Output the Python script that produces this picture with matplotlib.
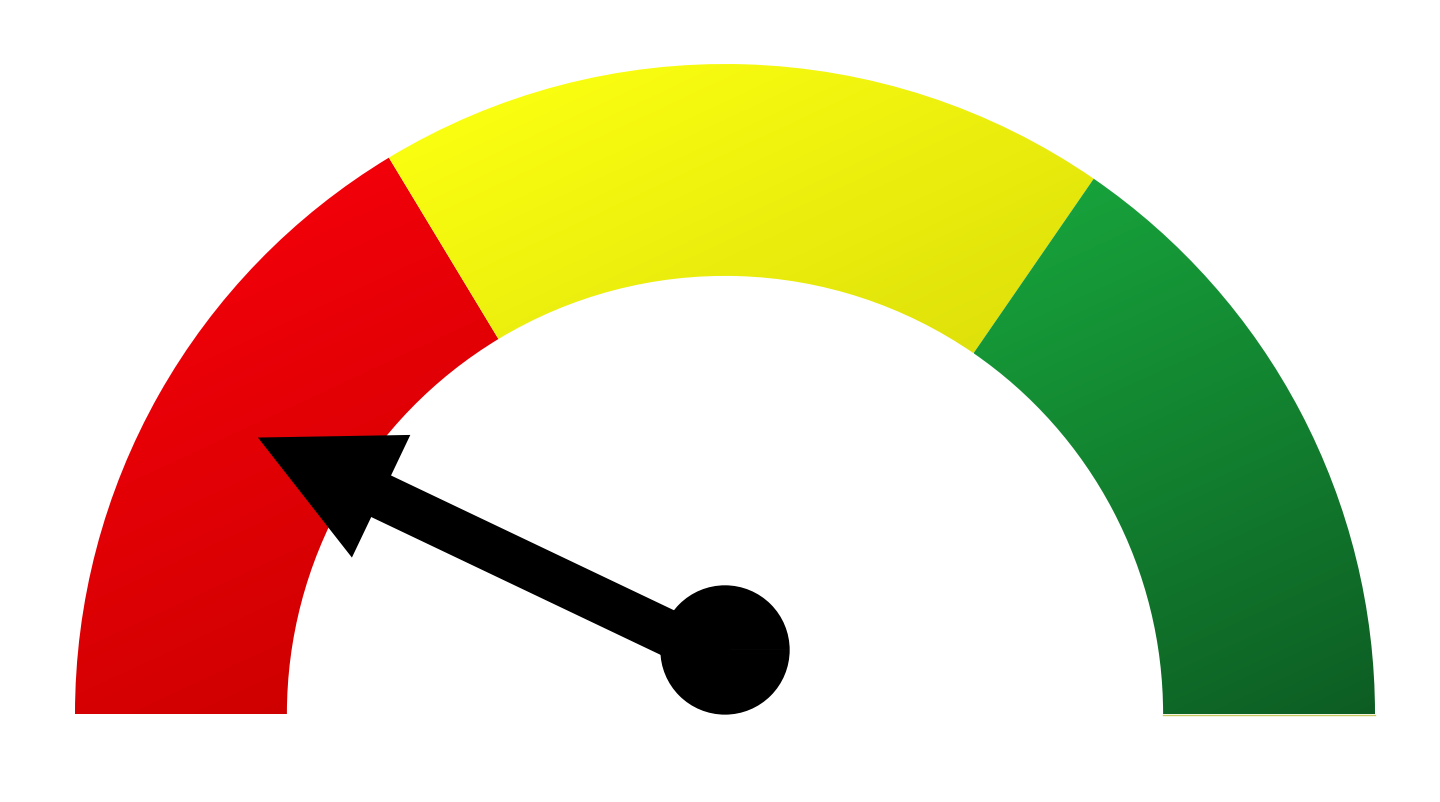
import numpy as np
import matplotlib
matplotlib.use("Agg")
import matplotlib.pyplot as plt
from matplotlib.patches import Wedge, FancyArrow
from matplotlib.colors import LinearSegmentedColormap

# ---- data ----
scale_min = 0
scale_max = 100
segment_bounds = [0, 32.7, 69.2, 100]      # red | yellow | green
segment_names = ["red", "yellow", "green"]
needle_value = 14.15

# ---- styles ----
segment_colors = [("#F2000A", "#CF0000"),
                  ("#FAFE10", "#DFE10A"),
                  ("#17A23B", "#0D5D23")]
R_OUT = 1.0
R_IN = 0.674
HUB_Y = 0.0985
HUB_R = 0.0995
NEEDLE_Y = 0.083
GRAD_ANGLE = np.radians(65)   # gradient direction, down-right


def val2ang(v):
    return 180.0 - 180.0 * (v - scale_min) / (scale_max - scale_min)


fig = plt.figure(figsize=(14.4, 8.02), dpi=100)
ax = fig.add_axes([0, 0, 1, 1])
ax.set_xlim(-725 / 650, (1440 - 725) / 650)
ax.set_ylim(-(802 - 714) / 650, 714 / 650)
ax.set_aspect("equal")
ax.axis("off")

dvec = np.array([np.cos(GRAD_ANGLE), -np.sin(GRAD_ANGLE)])

for i, name in enumerate(segment_names):
    a1 = val2ang(segment_bounds[i + 1])
    a0 = val2ang(segment_bounds[i])
    w = Wedge((0, 0), R_OUT, a1, a0, width=R_OUT - R_IN,
              facecolor="none", edgecolor="none")
    ax.add_patch(w)
    angs = np.linspace(np.radians(a1), np.radians(a0), 400)
    xs = np.concatenate([R_OUT * np.cos(angs), R_IN * np.cos(angs)])
    ys = np.concatenate([R_OUT * np.sin(angs), R_IN * np.sin(angs)])
    x0, x1 = xs.min(), xs.max()
    y0, y1 = ys.min(), ys.max()
    proj = xs * dvec[0] + ys * dvec[1]
    pmin, pmax = proj.min(), proj.max()
    gx = np.linspace(x0, x1, 400)
    gy = np.linspace(y1, y0, 400)   # top row first
    GX, GY = np.meshgrid(gx, gy)
    T = np.clip((GX * dvec[0] + GY * dvec[1] - pmin) / (pmax - pmin), 0, 1)
    cmap = LinearSegmentedColormap.from_list(name, list(segment_colors[i]))
    im = ax.imshow(T, cmap=cmap, vmin=0, vmax=1, origin="upper",
                   extent=[x0, x1, y0, y1], interpolation="bilinear",
                   zorder=1)
    im.set_clip_path(w)

# thin olive edge under green segment
ax.plot([R_IN, R_OUT], [-0.0015, -0.0015], color="#C8C860", lw=1.0, zorder=0.5)

# needle
ang = np.radians(val2ang(needle_value))
L = 0.796
ax.add_patch(FancyArrow(0, NEEDLE_Y, L * np.cos(ang), L * np.sin(ang),
                        width=0.0708, head_width=0.209, head_length=0.21,
                        length_includes_head=True, color="black",
                        linewidth=0, zorder=3))
# hub
ax.add_patch(Wedge((0, HUB_Y), HUB_R, 0, 180, color="black", zorder=4, lw=0))
ax.add_patch(Wedge((0, HUB_Y), HUB_R, 180, 360, color="black", zorder=4, lw=0))

fig.savefig("out.png", dpi=100, facecolor="white")
